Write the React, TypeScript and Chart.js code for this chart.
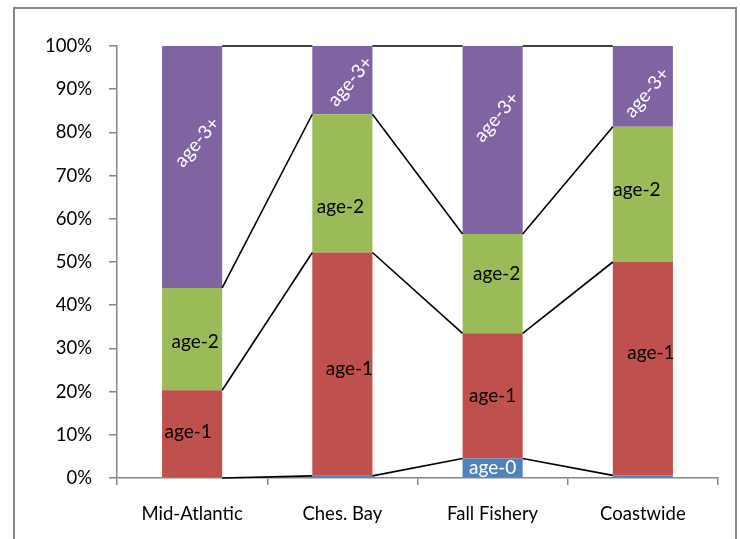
import React, { useEffect, useRef } from "react";
import { Chart, registerables } from "chart.js";

Chart.register(...registerables);

const categories = ["Mid-Atlantic", "Ches. Bay", "Fall Fishery", "Coastwide"];
const seriesNames = ["age-0", "age-1", "age-2", "age-3+"];
const age0 = [0, 0.5, 4.5, 0.6];
const age1 = [20.3, 51.7, 29, 49.4];
const age2 = [23.7, 32, 23, 31.3];
const age3 = [56, 15.8, 43.5, 18.7];
const yTickValues = [0, 10, 20, 30, 40, 50, 60, 70, 80, 90, 100];

const seriesValues = [age0, age1, age2, age3];
const seriesColors = ["#4F81BD", "#C0504D", "#9BBB59", "#8064A2"];
// which labels are shown (per series, per category)
const showLabel = [
  [false, false, true, false],
  [true, true, true, true],
  [true, true, true, true],
  [true, true, true, true],
];
// small label nudges [dx, dy] in px
const labelNudge = [
  [[0, 0], [0, 0], [0, 0], [0, 0]],
  [[-4, -2], [7, 5], [0, 0], [8, -16]],
  [[3, 3], [-2, 23], [4, -10], [-6, -5]],
  [[5, -25], [8, 1], [4, -23], [4, 6]],
];

const FONT = "Lato, 'Open Sans', sans-serif";

const seriesLinesPlugin = {
  id: "seriesLines",
  afterDatasetsDraw(chart: any) {
    const ctx = chart.ctx;
    ctx.save();
    ctx.strokeStyle = "#000";
    ctx.lineWidth = 1.6;
    chart.data.datasets.forEach((_: any, d: number) => {
      const meta = chart.getDatasetMeta(d);
      for (let i = 0; i < meta.data.length - 1; i++) {
        const a = meta.data[i];
        const b = meta.data[i + 1];
        const aw = a.width / 2;
        const bw = b.width / 2;
        ctx.beginPath();
        ctx.moveTo(a.x + aw, a.y);
        ctx.lineTo(b.x - bw, b.y);
        ctx.stroke();
      }
    });
    ctx.restore();
  },
};

const barLabelsPlugin = {
  id: "barLabels",
  afterDatasetsDraw(chart: any) {
    const ctx = chart.ctx;
    ctx.save();
    ctx.font = `19px ${FONT}`;
    ctx.textAlign = "center";
    ctx.textBaseline = "middle";
    chart.data.datasets.forEach((ds: any, d: number) => {
      const meta = chart.getDatasetMeta(d);
      meta.data.forEach((el: any, i: number) => {
        if (!showLabel[d][i]) return;
        const c = el.getCenterPoint();
        const [dx, dy] = labelNudge[d][i];
        const x = c.x + dx;
        const y = c.y + dy;
        const text = seriesNames[d];
        ctx.save();
        ctx.translate(x, y);
        if (d === 3) {
          ctx.rotate((-50 * Math.PI) / 180);
          ctx.fillStyle = "#FFFFFF";
        } else if (d === 0) {
          ctx.fillStyle = "#FFFFFF";
        } else {
          ctx.fillStyle = "#000000";
        }
        ctx.fillText(text, 0, 0);
        ctx.restore();
      });
    });
    ctx.restore();
  },
};

export default function App() {
  const ref = useRef<HTMLCanvasElement | null>(null);

  useEffect(() => {
    if (!ref.current) return;
    const chart = new Chart(ref.current, {
      type: "bar",
      data: {
        labels: categories,
        datasets: seriesNames.map((name, k) => ({
          label: name,
          data: seriesValues[k],
          backgroundColor: seriesColors[k],
          borderWidth: 0,
          barPercentage: 0.4,
          categoryPercentage: 1,
        })),
      },
      options: {
        responsive: false,
        animation: false,
        layout: { padding: { left: 0, right: 22, top: 46, bottom: 0 } },
        plugins: {
          legend: { display: false },
          tooltip: { enabled: false },
        },
        scales: {
          x: {
            stacked: true,
            grid: {
              offset: true,
              drawOnChartArea: false,
              drawTicks: true,
              tickLength: 7,
              color: "#868686",
              lineWidth: 1.5,
            },
            border: { display: true, color: "#868686", width: 1.5 },
            ticks: {
              color: "#000",
              font: { family: FONT, size: 18.5 },
              padding: 18,
              maxRotation: 0,
            },
            afterFit: (s: any) => {
              s.height = 61;
            },
          },
          y: {
            stacked: true,
            min: 0,
            max: 100,
            afterBuildTicks: (s: any) => {
              s.ticks = yTickValues.map((v) => ({ value: v }));
            },
            grid: {
              drawOnChartArea: false,
              drawTicks: true,
              tickLength: 8,
              color: "#868686",
              lineWidth: 1.5,
            },
            border: { display: true, color: "#868686", width: 1.5 },
            ticks: {
              color: "#000",
              font: { family: FONT, size: 18.5 },
              padding: 17,
              callback: (v: any) => `${v}%`,
            },
            afterFit: (s: any) => {
              s.width = 117;
            },
          },
        },
      },
      plugins: [seriesLinesPlugin, barLabelsPlugin],
    });
    return () => chart.destroy();
  }, []);

  return (
    <div style={{ position: "fixed", left: 0, top: 0, width: 740, height: 539, background: "#fff", overflow: "hidden" }}>
      <div
        style={{
          position: "absolute",
          left: 13,
          top: 7,
          width: 720,
          height: 560,
          border: "2px solid #878787",
          boxSizing: "content-box",
        }}
      />
      <canvas ref={ref} width={740} height={539} style={{ position: "absolute", left: 0, top: 0 }} />
    </div>
  );
}
